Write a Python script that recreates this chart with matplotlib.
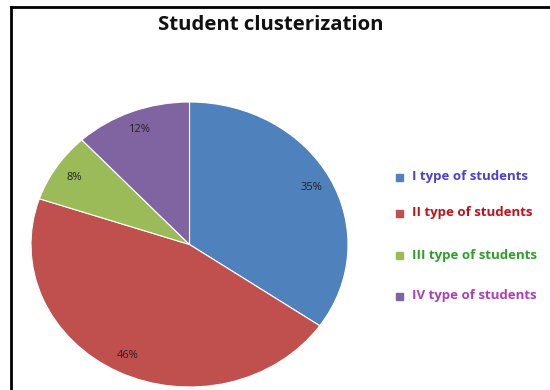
import matplotlib.pyplot as plt
from matplotlib.lines import Line2D

# student groups and their shares (%)
groups = ['I type of students', 'II type of students',
          'III type of students', 'IV type of students']
shares = [35, 46, 8, 12]
slice_colors = ['#4F81BD', '#C0504D', '#9BBB59', '#8064A2']
text_colors = ['#4B3FD6', '#C0101A', '#2E9E2A', '#B03CB8']

W, H = 550, 390
fig = plt.figure(figsize=(W / 100, H / 100), dpi=100)

# pie is stretched a little wider than tall
ax = fig.add_axes([31 / W, 3 / H, 317 / W, 285 / H])
total = sum(shares)
wedges, _, autotexts = ax.pie(
    shares, colors=slice_colors, startangle=90, counterclock=False,
    radius=1, autopct=lambda p: f'{p * total / 100:.0f}%', pctdistance=0.87,
    wedgeprops=dict(edgecolor='white', linewidth=0.8),
    textprops=dict(fontsize=8, color='#222222', family='Open Sans'))
ax.set_aspect('auto')
ax.set_xlim(-1, 1)
ax.set_ylim(-1, 1)
ax.axis('off')

# title
fig.text(271 / W, 1 - 25 / H, 'Student clusterization', ha='center', va='center',
         fontsize=14.7, fontweight='bold', family='Open Sans', color='#111111')

# legend drawn by hand: square marker + coloured label
legend_y = [177, 213, 255, 296]
for name, sc, tc, y in zip(groups, slice_colors, text_colors, legend_y):
    fig.patches.append(plt.Rectangle(((396) / W, 1 - (y + 4) / H), 7 / W, 7 / H,
                                     transform=fig.transFigure, color=sc))
    fig.text(412 / W, 1 - y / H, name, ha='left', va='center',
             fontsize=9.5, fontweight='bold', family='Open Sans', color=tc)

# outer frame (top and left edges)
fig.lines.append(Line2D([11 / W, 1.0], [1 - 7 / H, 1 - 7 / H],
                        transform=fig.transFigure, color='black', linewidth=2))
fig.lines.append(Line2D([11 / W, 11 / W], [0, 1 - 7 / H],
                        transform=fig.transFigure, color='black', linewidth=2))

fig.savefig('out.png', dpi=100, facecolor='white')
